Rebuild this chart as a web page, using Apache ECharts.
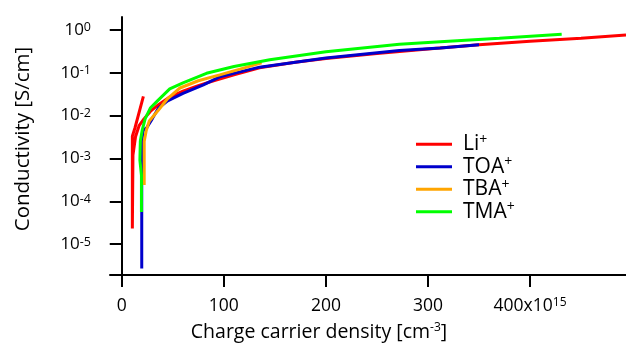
<!DOCTYPE html>
<html>
<head>
<meta charset="utf-8">
<script src="https://cdn.jsdelivr.net/npm/echarts@6/dist/echarts.min.js"></script>
<style>html,body{margin:0;padding:0;background:#fff}#c{width:626px;height:345px}</style>
</head>
<body>
<div id="c"></div>
<script>
// Data (x in 10^15 cm^-3, y in S/cm)
const seriesNames = ['Li+', 'TOA+', 'TBA+', 'TMA+'];
const liData = [[21.2,0.028],[13,0.0052],[10.4,0.0033],[10.4,2.3e-5],[11,0.0012],[13.5,0.0032],[17,0.0058],[22,0.0085],[28,0.0125],[36,0.018],[47,0.027],[60,0.037],[75,0.05],[90,0.065],[110,0.09],[135,0.13],[170,0.175],[200,0.215],[250,0.28],[300,0.36],[350,0.45],[400,0.54],[450,0.64],[494,0.76]];
const toaData = [[19.6,2.7e-6],[19.6,2.5e-3],[21,0.0045],[24.5,0.0052],[30,0.0085],[36,0.015],[45,0.022],[60,0.033],[80,0.052],[96,0.08],[135,0.135],[200,0.22],[272,0.33],[312,0.38],[350,0.45]];
const tbaData = [[22,2.4e-4],[22,2.5e-3],[24,0.0045],[27,0.0075],[36,0.0135],[45,0.025],[57,0.044],[75,0.065],[96,0.089],[115,0.12],[137,0.17]];
const tmaData = [[19.3,5.6e-5],[19.3,4e-4],[17.8,9e-4],[18.2,2.5e-3],[20,0.0045],[23,0.0085],[28,0.015],[35,0.022],[47,0.042],[60,0.058],[83,0.097],[110,0.14],[145,0.2],[200,0.31],[272,0.46],[312,0.53],[370,0.64],[431,0.79]];
const xTicks = [0, 100, 200, 300, 400];
const yTicks = [1e-5, 1e-4, 1e-3, 1e-2, 1e-1, 1];
const colors = ['#ff0000', '#0000cc', '#ffa500', '#00ff00'];
const xTitle = 'Charge carrier density [cm';
const yTitle = 'Conductivity [S/cm]';

const FONT = 'Open Sans';
const chart = echarts.init(document.getElementById('c'), null, {renderer: 'canvas'});
const allData = [liData, toaData, tbaData, tmaData];

chart.setOption({
  animation: false,
  backgroundColor: '#fff',
  grid: {left: 110, right: 0, top: 17, bottom: 70, containLabel: false},
  xAxis: {
    type: 'value', min: -11.5, max: 494,
    splitLine: {show: false},
    axisLine: {onZero: false, lineStyle: {color: '#000', width: 2}},
    axisTick: {customValues: xTicks, length: 12, lineStyle: {color: '#000', width: 2}},
    axisLabel: {
      customValues: xTicks, margin: 22, color: '#000', fontSize: 17.5, fontFamily: FONT,
      formatter: v => v === 400 ? '400x10{sup|15}' : String(v),
      rich: {sup: {fontSize: 12, verticalAlign: 'top', lineHeight: 11, fontFamily: FONT, color: '#000'}}
    }
  },
  yAxis: {
    type: 'log', logBase: 10, min: 1.9e-6, max: 2,
    splitLine: {show: false},
    axisLine: {lineStyle: {color: '#000', width: 2}},
    axisTick: {customValues: yTicks, length: 12, lineStyle: {color: '#000', width: 2}},
    axisLabel: {
      customValues: yTicks, margin: 19, color: '#000', fontSize: 17, fontFamily: FONT,
      formatter: v => '10{sup|' + Math.round(Math.log10(v)) + '}',
      rich: {sup: {fontSize: 12.5, verticalAlign: 'top', lineHeight: 11, fontFamily: FONT, color: '#000'}}
    }
  },
  legend: {
    orient: 'vertical', left: 416, top: 133, padding: 0, itemGap: 0,
    itemWidth: 36, itemHeight: 3, icon: 'rect',
    data: seriesNames,
    formatter: n => n.replace('+', '') + '{sup|+}',
    textStyle: {
      color: '#000', fontSize: 21, fontFamily: FONT, lineHeight: 22.5, padding: [0, 0, 0, 6],
      rich: {sup: {fontSize: 14, verticalAlign: 'top', lineHeight: 13, fontFamily: FONT, color: '#000'}}
    }
  },
  graphic: [
    {type: 'text', x: 319, y: 332, style: {
      text: xTitle + '{sup|-3}]', align: 'center', verticalAlign: 'middle',
      fontSize: 19.5, fontFamily: FONT, fill: '#000',
      rich: {sup: {fontSize: 12, verticalAlign: 'top', lineHeight: 12, fontFamily: FONT, fill: '#000'}}
    }},
    {type: 'text', x: 23, y: 139, rotation: Math.PI / 2, style: {
      text: yTitle, align: 'center', verticalAlign: 'middle',
      fontSize: 20.5, fontFamily: FONT, fill: '#000'
    }}
  ],
  series: allData.map((d, i) => ({
    name: seriesNames[i], type: 'line', data: d, showSymbol: false,
    color: colors[i], lineStyle: {width: 3, color: colors[i]}, clip: true
  }))
});
</script>
</body>
</html>
